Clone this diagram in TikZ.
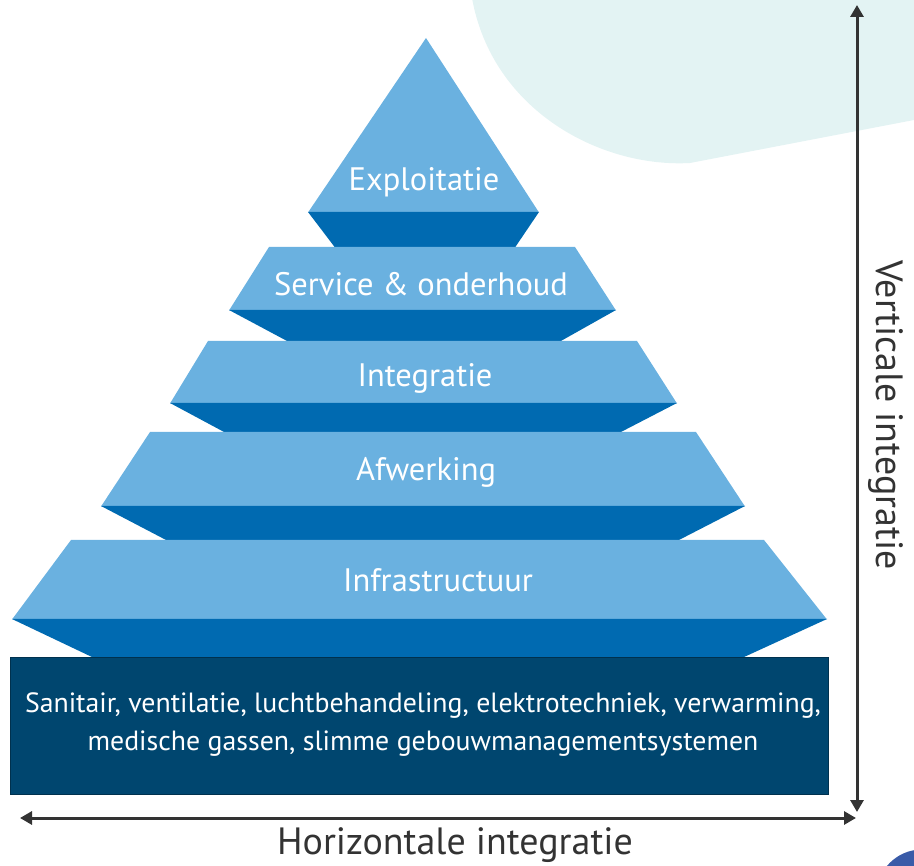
\documentclass[tikz,border=0pt]{standalone}
\usepackage{fontspec}
\setmainfont{PT Sans}
\usetikzlibrary{arrows.meta}
\definecolor{lightblue}{HTML}{6AB1E0}
\definecolor{bandblue}{HTML}{006AB1}
\definecolor{basenavy}{HTML}{00466F}
\definecolor{blobteal}{HTML}{E3F3F3}
\definecolor{arrowgray}{HTML}{333333}
\definecolor{dotblue}{HTML}{3A5BA8}
\tikzset{
  lightpart/.style={fill=lightblue, draw=none},
  bandpart/.style={fill=bandblue, draw=none},
  layerlabel/.style={text=white, font=\fontsize{32.5}{36}\selectfont, inner sep=0pt},
  baselabel/.style={text=white, font=\fontsize{27.8}{38}\selectfont, align=center, inner sep=0pt},
  axislabel/.style={text=arrowgray, font=\fontsize{38}{42}\selectfont, inner sep=0pt},
  axisarrow/.style={draw=arrowgray, line width=3pt, {Triangle[length=12pt,width=13pt]}-{Triangle[length=12pt,width=13pt]}}
}
\begin{document}
\begin{tikzpicture}[x=1pt,y=-1pt]
\useasboundingbox (0,0) rectangle (914,866);
\begin{scope}
\clip (0,0) rectangle (914,866);
% teal blob
\fill[blobteal] (472,-2) .. controls (492,110) and (600,168) .. (690,163)
  -- (914,120) -- (914,-2) -- cycle;
% blue circle bottom right
\fill[dotblue] (922,895) circle (45.5);
\end{scope}
% layer 1
\path[lightpart] (426,38) -- (539,212.5) -- (308,212.5) -- cycle;
\path[bandpart] (308,212) -- (539,212) -- (515,247.5) -- (335,247.5) -- cycle;
% layer 2
\path[lightpart] (269,247) -- (575,247) -- (616,310.5) -- (229,310.5) -- cycle;
\path[bandpart] (229,310) -- (616,310) -- (560,341.5) -- (288,341.5) -- cycle;
% layer 3
\path[lightpart] (208,341) -- (637,341) -- (677,403.5) -- (170,403.5) -- cycle;
\path[bandpart] (170,403) -- (677,403) -- (620,432.5) -- (225,432.5) -- cycle;
% layer 4
\path[lightpart] (150,432) -- (696,432) -- (745,506.5) -- (101,506.5) -- cycle;
\path[bandpart] (101,506) -- (745,506) -- (678,540.5) -- (167,540.5) -- cycle;
% layer 5
\path[lightpart] (71,540) -- (764,540) -- (827,619.5) -- (12,619.5) -- cycle;
\path[bandpart] (12,619) -- (827,619) -- (743,657.5) -- (93,657.5) -- cycle;
% base
\draw[fill=basenavy, draw=basenavy!70!black, line width=1pt] (10,657) rectangle (828,794);
% labels
\node[layerlabel] (l1) at (424,182) {Exploitatie};
\node[layerlabel] (l2) at (421,284) {Service \& onderhoud};
\node[layerlabel] (l3) at (425,378) {Integratie};
\node[layerlabel] (l4) at (426,472) {Afwerking};
\node[layerlabel] (l5) at (438,580) {Infrastructuur};
\node[baselabel] (base) at (423,725) {Sanitair, ventilatie, luchtbehandeling, elektrotechniek, verwarming,\\medische gassen, slimme gebouwmanagementsystemen};
% axes
\coordinate (hl) at (20,818);
\coordinate (hr) at (856,818);
\coordinate (vt) at (857,5);
\coordinate (vb) at (857,812);
\draw[axisarrow] (hl) -- (hr);
\draw[axisarrow] (vb) -- (vt);
\node[axislabel] (hlab) at (455,845) {Horizontale integratie};
\node[axislabel, rotate=-90] (vlab) at (886,415) {Verticale integratie};
\end{tikzpicture}
\end{document}
